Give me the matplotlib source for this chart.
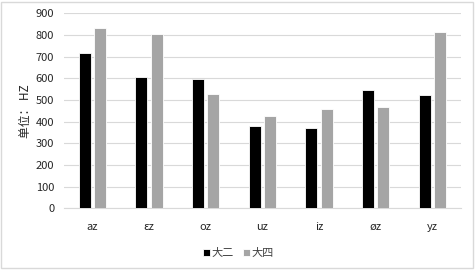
import numpy as np
import matplotlib.pyplot as plt
from matplotlib.patches import Rectangle

plt.rcParams['font.family'] = ['Noto Sans CJK SC', 'DejaVu Sans']

categories = ['az', 'εz', 'oz', 'uz', 'iz', 'øz', 'yz']
grade2 = [718, 604, 597, 381, 370, 546, 522]
grade4 = [832, 804, 529, 426, 457, 469, 814]

fig = plt.figure(figsize=(4.77, 2.73), dpi=100)
ax = fig.add_axes([0.134, 0.237, 0.832, 0.714])

x = np.arange(len(categories))
w = 0.21
ax.bar(x - 0.135, grade2, w, color='#000000', edgecolor='white', linewidth=0.6, label='大二', zorder=3)
ax.bar(x + 0.135, grade4, w, color='#A5A5A5', edgecolor='white', linewidth=0.6, label='大四', zorder=3)

ax.set_xlim(-0.5, len(categories) - 0.5)
ax.set_ylim(0, 900)
ax.set_yticks(range(0, 901, 100))
ax.set_xticks(x)
ax.set_xticklabels(categories)
ax.grid(axis='y', color='#D9D9D9', linewidth=0.8, zorder=0)
for s in ['top', 'right', 'left']:
    ax.spines[s].set_visible(False)
ax.spines['bottom'].set_color('#D9D9D9')
ax.tick_params(axis='both', length=0, labelsize=8, colors='#262626')
ax.tick_params(axis='y', pad=7)
ax.tick_params(axis='x', pad=10)
ax.set_ylabel('单位： HZ', fontsize=8.5, color='#262626', labelpad=3)

fig.legend(loc='center', bbox_to_anchor=(0.5, 0.073), ncol=2, frameon=False,
           fontsize=8, handlelength=0.6, handleheight=0.6, handletextpad=0.2,
           columnspacing=0.8, labelcolor='#404040')

fig.patches.append(Rectangle((0.003, 0.018), 0.989, 0.975, transform=fig.transFigure,
                             fill=False, edgecolor='#D9D9D9', linewidth=1))

fig.savefig('out.png', dpi=100)
